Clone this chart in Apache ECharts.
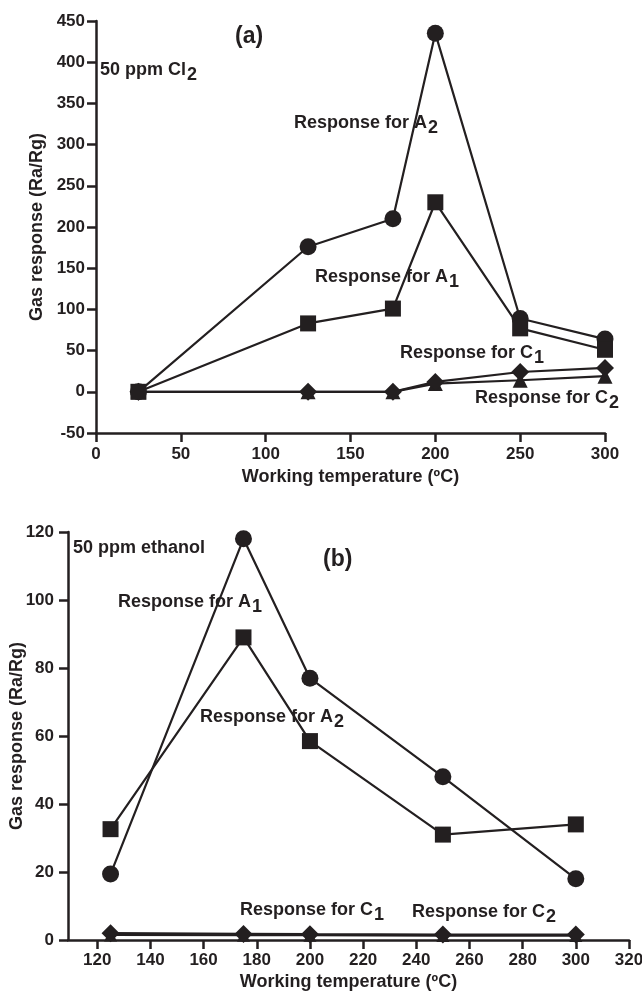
<!DOCTYPE html>
<html>
<head>
<meta charset="utf-8">
<script src="https://cdn.jsdelivr.net/npm/echarts@6/dist/echarts.min.js"></script>
<style>
  html, body { margin: 0; padding: 0; background: #fff; }
  #chart { width: 642px; height: 992px; }
</style>
</head>
<body>
<div id="chart"></div>
<script>
// panel (a): 50 ppm Cl2
const tempA = [25, 125, 175, 200, 250, 300];
const clA2 = [0, 176, 210, 435, 89, 64];   // circles
const clA1 = [0, 83, 101, 230, 77, 51];    // squares
const clC1 = [0, 0, 0, 12, 24, 29];        // diamonds
const clC2 = [0, 0, 0, 10, 14, 19];        // triangles

// panel (b): 50 ppm ethanol
const tempB = [125, 175, 200, 250, 300];
const etA1 = [19.4, 118, 77, 48, 18];      // circles
const etA2 = [32.6, 89, 58.5, 31, 34];     // squares
const etC1 = [2, 1.8, 1.7, 1.6, 1.6];      // diamonds
const etC2 = [1.5, 1.4, 1.4, 1.3, 1.3];    // triangles

const ticksB = [120, 140, 160, 180, 200, 220, 240, 260, 280, 300, 320];

const INK = '#231f20';
const FONT = '"Liberation Sans", Arial, Helvetica, sans-serif';

const chart = echarts.init(document.getElementById('chart'), null, { renderer: 'canvas' });

const pairs = (xs, ys) => xs.map((x, i) => [x, ys[i]]);

function line(name, xs, ys, symbol, size, idx) {
  return {
    name, type: 'line', xAxisIndex: idx, yAxisIndex: idx,
    data: pairs(xs, ys),
    symbol, symbolSize: size, showAllSymbol: true,
    lineStyle: { color: INK, width: 2.2 },
    itemStyle: { color: INK },
    emphasis: { disabled: true },
    animation: false
  };
}

const axisText = { color: INK, fontFamily: FONT, fontWeight: 'bold', fontSize: 17 };
const axisLine = { show: true, onZero: false, lineStyle: { color: INK, width: 2.5 } };
const axisTick = { show: true, inside: false, length: 9, lineStyle: { color: INK, width: 2.5 } };
const nameText = { color: INK, fontFamily: FONT, fontWeight: 'bold', fontSize: 18 };

// measure text so that the subscript sits right after the main part
const ctx = document.createElement('canvas').getContext('2d');
function textWidth(str, size) {
  ctx.font = 'bold ' + size + 'px ' + FONT;
  return ctx.measureText(str).width;
}

function note(x, y, main, sub, size) {
  size = size || 18;
  const els = [{
    type: 'text', left: x, top: y - size / 2,
    style: { text: main, fill: INK, font: 'bold ' + size + 'px ' + FONT }
  }];
  if (sub) {
    els.push({
      type: 'text', left: x + textWidth(main, size) + 1, top: y - size / 2 + 5,
      style: { text: sub, fill: INK, font: 'bold ' + size + 'px ' + FONT }
    });
  }
  return els;
}

const option = {
  backgroundColor: '#fff',
  animation: false,
  grid: [
    { left: 96, top: 21, width: 509, height: 412, outerBoundsMode: 'none', containLabel: false },
    { left: 68, top: 532, width: 561, height: 408, outerBoundsMode: 'none', containLabel: false }
  ],
  xAxis: [
    {
      type: 'value', gridIndex: 0, min: 0, max: 300, interval: 50,
      name: 'Working temperature (ºC)', nameLocation: 'middle', nameGap: 35, nameMoveOverlap: false,
      nameTextStyle: nameText,
      axisLine, axisTick,
      axisLabel: Object.assign({ margin: 13 }, axisText),
      splitLine: { show: false }
    },
    {
      type: 'value', gridIndex: 1, min: 109, max: 320,
      name: 'Working temperature (ºC)', nameLocation: 'middle', nameGap: 33, nameMoveOverlap: false,
      nameTextStyle: nameText,
      axisLine,
      axisTick: Object.assign({ customValues: ticksB }, axisTick),
      axisLabel: Object.assign({ margin: 12, customValues: ticksB }, axisText),
      splitLine: { show: false }
    }
  ],
  yAxis: [
    {
      type: 'value', gridIndex: 0, min: -50, max: 450, interval: 50,
      name: 'Gas response (Ra/Rg)', nameLocation: 'middle', nameGap: 50, nameMoveOverlap: false,
      nameTextStyle: nameText,
      axisLine, axisTick,
      axisLabel: Object.assign({ margin: 11 }, axisText),
      splitLine: { show: false }
    },
    {
      type: 'value', gridIndex: 1, min: 0, max: 120, interval: 20,
      name: 'Gas response (Ra/Rg)', nameLocation: 'middle', nameGap: 42, nameMoveOverlap: false,
      nameTextStyle: nameText,
      axisLine, axisTick,
      axisLabel: Object.assign({ margin: 14 }, axisText),
      splitLine: { show: false }
    }
  ],
  series: [
    line('C2', tempA, clC2, 'triangle', 15, 0),
    line('C1', tempA, clC1, 'diamond', 18, 0),
    line('A2', tempA, clA2, 'circle', 17, 0),
    line('A1', tempA, clA1, 'rect', 16, 0),
    line('C2', tempB, etC2, 'triangle', 13, 1),
    line('C1', tempB, etC1, 'diamond', 18, 1),
    line('A1', tempB, etA1, 'circle', 17, 1),
    line('A2', tempB, etA2, 'rect', 16, 1)
  ],
  graphic: [].concat(
    note(235, 37, '(a)', null, 23),
    note(100, 70, '50 ppm Cl', '2', 18),
    note(294, 123, 'Response for A', '2'),
    note(315, 277, 'Response for A', '1'),
    note(400, 353, 'Response for C', '1'),
    note(475, 398, 'Response for C', '2'),
    note(323, 560, '(b)', null, 23),
    note(73, 548, '50 ppm ethanol', null, 18),
    note(118, 602, 'Response for A', '1'),
    note(200, 717, 'Response for A', '2'),
    note(240, 910, 'Response for C', '1'),
    note(412, 912, 'Response for C', '2')
  )
};

chart.setOption(option);
</script>
</body>
</html>
